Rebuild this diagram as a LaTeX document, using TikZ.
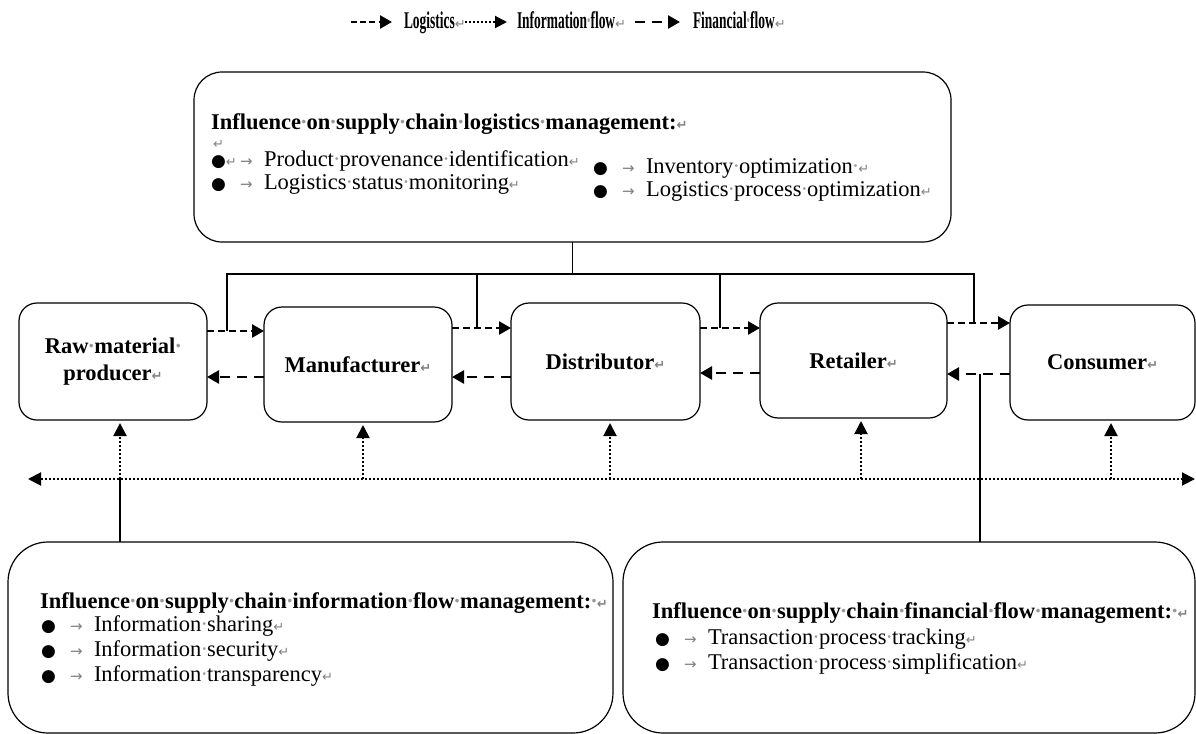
\documentclass[tikz,border=0pt]{standalone}
\usepackage{fontspec}
\usepackage{graphicx}
\setmainfont{Liberation Serif}
\newfontfamily\symf{DejaVu Sans}
\usetikzlibrary{arrows.meta}
\newcommand\retm{{\symf\fontsize{6.5}{7}\selectfont\textcolor{gray}{↵}}}
\newcommand\sd{\makebox[0.25em]{\textcolor{gray!80}{·}}}
\newcommand\bul{\makebox[14.5pt][l]{\symf\fontsize{8.5}{10}\selectfont ●}}
\newcommand\tabar{\makebox[12pt][l]{\symf\fontsize{7.5}{8}\selectfont\textcolor{gray}{→}}}
\newcommand\legtxt[1]{\scalebox{0.56}[1]{\fontsize{12}{14}\selectfont\bfseries #1}}
\begin{document}
\begin{tikzpicture}[x=0.5pt,y=-0.5pt,
  font=\fontsize{11.25}{13.5}\selectfont,
  box/.style={draw, line width=0.6pt, inner sep=0pt, outer sep=0pt, align=center, font=\fontsize{11.25}{13.5}\selectfont\bfseries},
  midbox/.style={box, rounded corners=9pt},
  bigbox/.style={box},
  txt/.style={anchor=base west, inner sep=0pt, outer sep=0pt},
  conn/.style={line width=0.6pt},
  logi/.style={line width=1.3pt, dash pattern=on 3.5pt off 2pt, -{Triangle[length=6pt,width=6.5pt]}},
  fin/.style={line width=1.3pt, dash pattern=on 5pt off 3.5pt, -{Triangle[length=6pt,width=6.5pt]}},
  info/.style={line width=1pt, dash pattern=on 1pt off 1pt},
  infoarr/.style={info, -{Triangle[length=6.5pt,width=6.5pt]}, shorten >=1.5pt}
]
\useasboundingbox (0,0) rectangle (1196,734);

% legend
\coordinate (lga) at (351,22); \coordinate (lgb) at (392,22);
\coordinate (lia) at (465,22); \coordinate (lib) at (507,22);
\coordinate (lfa) at (635,22); \coordinate (lfb) at (680,22);
\draw[logi, dash pattern=on 3pt off 1.6pt] (lga) -- (lgb);
\draw[info, -{Triangle[length=6pt,width=6pt]}] (lia) -- (lib);
\draw[fin] (lfa) -- (lfb);
\node[txt] (lgt) at (404,28) {\legtxt{Logistics}\retm};
\node[txt] (lit) at (517,28) {\legtxt{Information\sd flow}\retm};
\node[txt] (lft) at (693,28) {\legtxt{Financial\sd flow}\retm};

% top box
\node[bigbox, rounded corners=14pt, minimum width=378.5pt, minimum height=85pt] (top) at (572.5,157) {};
\node[txt] (th) at (211,129) {\bfseries Influence\sd on\sd supply\sd chain\sd logistics\sd management:\retm};
\node[txt] (tr0) at (213,148) {\retm};
\node[txt] (tl1) at (211,166) {\makebox[14.5pt][l]{{\symf\fontsize{8.5}{10}\selectfont ●}\retm}\tabar Product\sd provenance\sd identification\retm};
\node[txt] (tl2) at (211,189) {\bul\tabar Logistics\sd status\sd monitoring\retm};
\node[txt] (tr1) at (593,173) {\bul\tabar Inventory\sd optimization\sd\retm};
\node[txt] (tr2) at (593,196) {\bul\tabar Logistics\sd process\sd optimization\retm};

% chain boxes
\node[midbox, minimum width=94pt, minimum height=58.5pt] (raw) at (113,361.5) {Raw\sd material\sd\\producer\retm};
\node[midbox, minimum width=94pt, minimum height=57.5pt] (man) at (358,364.5) {Manufacturer\retm};
\node[midbox, minimum width=94.5pt, minimum height=58.5pt] (dis) at (605.5,361.5) {Distributor\retm};
\node[midbox, minimum width=93.5pt, minimum height=57.5pt] (ret) at (853.5,360.5) {Retailer\retm};
\node[midbox, minimum width=92.5pt, minimum height=57.5pt] (con) at (1102.5,362.5) {Consumer\retm};

% logistics (forward) and financial (backward) flows
\coordinate (f1) at (227,331); \coordinate (f2) at (477,328);
\coordinate (f3) at (720,328); \coordinate (f4) at (974,323);
\coordinate (b1) at (0,377); \coordinate (b2) at (0,377);
\coordinate (b3) at (0,373); \coordinate (b4) at (980,374);
\draw[logi] (raw.east |- f1) -- (man.west |- f1);
\draw[logi] (man.east |- f2) -- (dis.west |- f2);
\draw[logi] (dis.east |- f3) -- (ret.west |- f3);
\draw[logi] (ret.east |- f4) -- (con.west |- f4);
\draw[fin] (man.west |- b1) -- (raw.east |- b1);
\draw[fin] (dis.west |- b2) -- (man.east |- b2);
\draw[fin] (ret.west |- b3) -- (dis.east |- b3);
\draw[fin] (con.west |- b4) -- (ret.east |- b4);

% bus from top box
\coordinate (bus) at (0,274);
\draw[conn] (top.south) -- (top.south |- bus);
\draw[conn] (f1) -- (f1 |- bus) -- (f4 |- bus) -- (f4);
\draw[conn] (f2) -- (f2 |- bus);
\draw[conn] (f3) -- (f3 |- bus);

% information flow
\coordinate (il) at (28,479); \coordinate (ir) at (1195,479);
\draw[info, {Triangle[length=6.5pt,width=6.5pt]}-{Triangle[length=6.5pt,width=6.5pt]}] (il) -- (ir);
\coordinate (u1) at (120,479); \coordinate (u2) at (363,479);
\coordinate (u3) at (610,479); \coordinate (u4) at (861,479);
\coordinate (u5) at (1111,479);
\draw[infoarr] (u1) -- (u1 |- raw.south);
\draw[infoarr] (u2) -- (u2 |- man.south);
\draw[infoarr] (u3) -- (u3 |- dis.south);
\draw[infoarr] (u4) -- (u4 |- ret.south);
\draw[infoarr] (u5) -- (u5 |- con.south);

% bottom boxes
\node[bigbox, rounded corners=20pt, minimum width=302.5pt, minimum height=95.5pt] (bl) at (310.5,637.5) {};
\node[bigbox, rounded corners=20pt, minimum width=286pt, minimum height=95.5pt] (br) at (909,637.5) {};
\draw[conn] (bl.north -| u1) -- (u1);
\draw[conn] (br.north -| b4) -- (b4);

\node[txt] (blh) at (40,608) {\bfseries Influence\sd on\sd supply\sd chain\sd information\sd flow\sd management:\sd\retm};
\node[txt] (bl1) at (41,631) {\bul\tabar Information\sd sharing\retm};
\node[txt] (bl2) at (41,656) {\bul\tabar Information\sd security\retm};
\node[txt] (bl3) at (41,681) {\bul\tabar Information\sd transparency\retm};

\node[txt] (brh) at (652,618) {\bfseries Influence\sd on\sd supply\sd chain\sd financial\sd flow\sd management:\sd\retm};
\node[txt] (br1) at (655,644) {\bul\tabar Transaction\sd process\sd tracking\retm};
\node[txt] (br2) at (655,669) {\bul\tabar Transaction\sd process\sd simplification\retm};
\end{tikzpicture}
\end{document}
